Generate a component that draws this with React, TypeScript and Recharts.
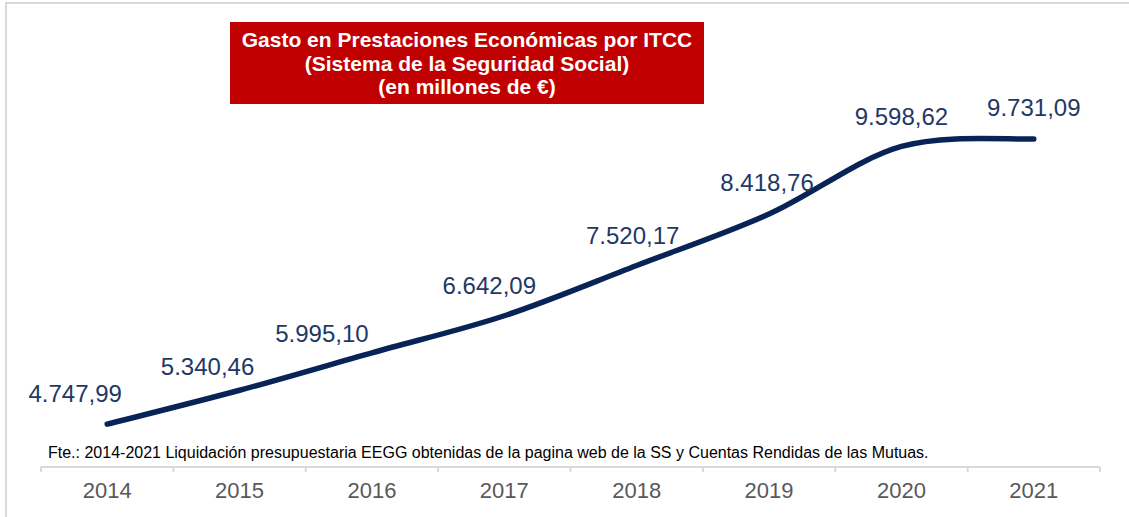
import React from "react";
import { ComposedChart, Line, XAxis, YAxis, LabelList } from "recharts";

const YEARS = ["2014", "2015", "2016", "2017", "2018", "2019", "2020", "2021"];
const GASTO = [4747.99, 5340.46, 5995.1, 6642.09, 7520.17, 8418.76, 9598.62, 9731.09];

// label nudges (dx, dy) from each point, as in the original
const LABEL_SHIFT: [number, number][] = [
  [-32, -31], [-32, -24], [-50, -19], [-15, -30],
  [-4, -30], [-2, -32], [0, -30], [0, -31],
];

const W = 1129;
const H = 517;
const AXIS_H = 50;
const M = { top: 9, right: 29, bottom: 0, left: 41 };
const BAND = (W - M.left - M.right) / YEARS.length;

const fmt = (v: number) => {
  const [int, dec] = v.toFixed(2).split(".");
  return int.replace(/\B(?=(\d{3})+(?!\d))/g, ".") + "," + dec;
};

// Excel-like smoothed line (Catmull-Rom as cubic beziers)
const smoothCurve = (context: any) => {
  let pts: [number, number][] = [];
  return {
    areaStart() {},
    areaEnd() {},
    lineStart() { pts = []; },
    point(x: number, y: number) { pts.push([+x, +y]); },
    lineEnd() {
      if (!pts.length) return;
      context.moveTo(pts[0][0], pts[0][1]);
      for (let i = 0; i < pts.length - 1; i++) {
        const p0 = pts[i - 1] || pts[i];
        const p1 = pts[i];
        const p2 = pts[i + 1];
        const p3 = pts[i + 2] || p2;
        context.bezierCurveTo(
          p1[0] + (p2[0] - p0[0]) / 6, p1[1] + (p2[1] - p0[1]) / 6,
          p2[0] - (p3[0] - p1[0]) / 6, p2[1] - (p3[1] - p1[1]) / 6,
          p2[0], p2[1],
        );
      }
    },
  };
};

const data = YEARS.map((y, i) => ({ year: y, gasto: GASTO[i] }));

function YearTick(props: any) {
  const { x, y, payload, index } = props;
  const left = x - BAND / 2;
  return (
    <g>
      <line x1={left} y1={y - 8} x2={left} y2={y - 3} stroke="#d9d9d9" strokeWidth={2} />
      {index === YEARS.length - 1 && (
        <line x1={left + BAND} y1={y - 8} x2={left + BAND} y2={y - 3} stroke="#d9d9d9" strokeWidth={2} />
      )}
      <text x={x} y={y + 15} textAnchor="middle" dominantBaseline="central"
        fontSize={22} fill="#595959" fontFamily="Liberation Sans, Arial, sans-serif">
        {payload.value}
      </text>
    </g>
  );
}

function PointLabel(props: any) {
  const { x, y, value, index } = props;
  const [dx, dy] = LABEL_SHIFT[index] || [0, -30];
  return (
    <text x={x + dx} y={y + dy} textAnchor="middle" dominantBaseline="central"
      fontSize={24} fill="#1f3864" fontFamily="Liberation Sans, Arial, sans-serif">
      {fmt(value)}
    </text>
  );
}

export default function App() {
  return (
    <div style={{
      position: "absolute", left: 0, top: 0, width: W, height: H,
      background: "#fff", overflow: "hidden",
      fontFamily: "Liberation Sans, Arial, sans-serif",
    }}>
      <div style={{
        position: "absolute", left: 5, top: 2, width: W, height: H,
        borderLeft: "2px solid #d9d9d9", borderTop: "2px solid #d9d9d9",
      }} />
      <ComposedChart width={W} height={H} data={data} margin={M}>
        <XAxis
          dataKey="year"
          scale="band"
          axisLine={{ stroke: "#d9d9d9", strokeWidth: 2 }}
          tickLine={false}
          tick={<YearTick />}
          interval={0}
          height={AXIS_H}
        />
        <YAxis hide domain={[4000, 12000]} />
        <Line
          type={smoothCurve as any}
          dataKey="gasto"
          stroke="#082457"
          strokeWidth={5.5}
          strokeLinecap="round"
          dot={false}
          isAnimationActive={false}
        >
          <LabelList dataKey="gasto" content={<PointLabel />} />
        </Line>
      </ComposedChart>
      <div style={{
        position: "absolute", left: 230, top: 22, width: 474, height: 82,
        background: "#c00000", color: "#fff", fontWeight: 700, fontSize: 21,
        lineHeight: "23.5px", textAlign: "center", paddingTop: 6, boxSizing: "border-box",
      }}>
        Gasto en Prestaciones Económicas por ITCC<br />
        (Sistema de la Seguridad Social)<br />
        (en millones de €)
      </div>
      <div style={{
        position: "absolute", left: 48, top: 444, fontSize: 16, color: "#000",
        whiteSpace: "nowrap",
      }}>
        Fte.: 2014-2021 Liquidación presupuestaria EEGG obtenidas de la pagina web de la SS y Cuentas Rendidas de las Mutuas.
      </div>
    </div>
  );
}
